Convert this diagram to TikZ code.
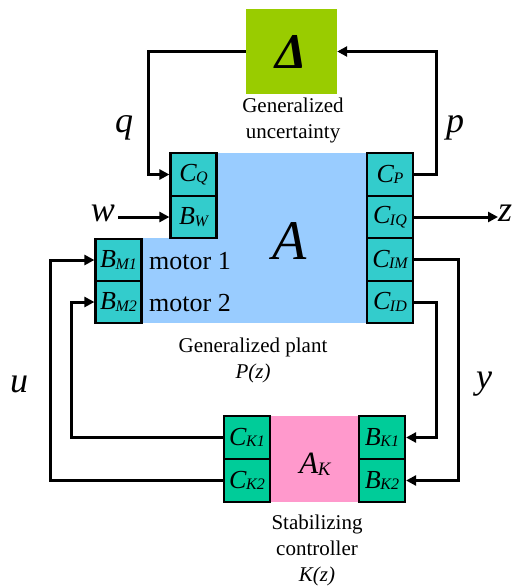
\documentclass[tikz,border=0pt]{standalone}
\usepackage{fontspec}
\setmainfont{Liberation Serif}
\usetikzlibrary{arrows.meta}
\definecolor{dgreen}{HTML}{99CC00}
\definecolor{pblue}{HTML}{99CCFF}
\definecolor{pteal}{HTML}{33CCCC}
\definecolor{kgreen}{HTML}{00CC99}
\definecolor{kpink}{HTML}{FF99CC}
\newcommand{\lab}[2]{{\fontsize{26}{26}\selectfont\itshape #1\kern-0.5pt\raisebox{-1.5pt}{\fontsize{16}{16}\selectfont #2}}}
\tikzset{
  pbox/.style={draw=black, line width=2.2pt, fill=pteal, minimum width=46pt, minimum height=42.5pt, inner sep=0pt},
  kbox/.style={draw=black, line width=2.2pt, fill=kgreen, minimum width=46pt, minimum height=43pt, inner sep=0pt},
  conn/.style={line width=3pt, draw=black},
  arr/.style={conn, -{Triangle[length=10pt,width=10pt]}},
  sig/.style={font=\fontsize{36}{36}\selectfont\itshape, inner sep=0pt},
  captxt/.style={font=\fontsize{21}{26}\selectfont, align=center, inner sep=0pt},
}
\begin{document}
\begin{tikzpicture}[x=1pt,y=-1pt]
\useasboundingbox (0,0) rectangle (512,587);
% uncertainty block
\node[fill=dgreen, minimum width=91pt, minimum height=85pt, inner sep=0pt] (delta) at (291.5,51.5) {\fontsize{50}{50}\selectfont\bfseries\itshape Δ};
\node[captxt] (unc) at (293,120) {Generalized\\uncertainty};
% plant background
\fill[pblue] (217,153) rectangle (367,238);
\fill[pblue] (142,238) rectangle (367,323);
\node[font=\fontsize{56}{56}\selectfont\itshape, inner sep=0pt] (A) at (290,241) {A};
% plant boxes
\node[pbox] (CQ) at (193.5,174.5) {\lab{C}{Q}};
\node[pbox] (BW) at (193.5,217) {\lab{B}{W}};
\node[pbox] (BM1) at (118.5,260) {\lab{B}{M1}};
\node[pbox] (BM2) at (118.5,302) {\lab{B}{M2}};
\node[pbox] (CP) at (390,174.5) {\lab{C}{P}};
\node[pbox] (CIQ) at (390,217) {\lab{C}{IQ}};
\node[pbox] (CIM) at (390,259.5) {\lab{C}{IM}};
\node[pbox] (CID) at (390,302) {\lab{C}{ID}};
\node[anchor=west, font=\fontsize{26}{26}\selectfont, inner sep=0pt] (m1) at (149,261) {motor 1};
\node[anchor=west, font=\fontsize{26}{26}\selectfont, inner sep=0pt] (m2) at (149,303) {motor 2};
\node[captxt] (plant) at (253,347) {Generalized plant};
\node[captxt, font=\fontsize{21}{26}\selectfont\itshape] (Pz) at (253,373) {P(z)};
% controller
\fill[kpink] (270,416) rectangle (359,502);
\node[kbox] (CK1) at (247,437.5) {\lab{C}{K1}};
\node[kbox] (CK2) at (247,480.5) {\lab{C}{K2}};
\node[kbox] (BK1) at (382,437.5) {\lab{B}{K1}};
\node[kbox] (BK2) at (382,480.5) {\lab{B}{K2}};
\node[inner sep=0pt] (AK) at (315,464) {{\fontsize{31}{31}\selectfont\itshape A\kern-0.5pt\raisebox{-2pt}{\fontsize{19}{19}\selectfont K}}};
\node[captxt] (ctrl) at (317,550) {Stabilizing\\controller\\\textit{K(z)}};
% signal labels
\node[sig] (q) at (124,128) {q};
\node[sig] (p) at (455,128) {p};
\node[sig] (w) at (103,213) {w};
\node[sig] (u) at (19,384) {u};
\node[sig] (y) at (484,384) {y};
\node[sig, anchor=west] (z) at (498,213) {z};
% connectors
\draw[arr] (delta.west) -- ++(-97,0) |- (CQ.west);
\draw[arr] (CP.east) -- ++(22,0) |- (delta.east);
\draw[arr] (w.east |- BW.west) ++(3,0) -- (BW.west);
\draw[arr] (CIQ.east) -- (z.west |- CIQ.east);
\draw[arr] (CIM.east) -- ++(44,0) |- (BK2.east);
\draw[arr] (CID.east) -- ++(22,0) |- (BK1.east);
\draw[arr] (CK2.west) -- ++(-172,0) |- (BM1.west);
\draw[arr] (CK1.west) -- ++(-151,0) |- (BM2.west);
\end{tikzpicture}
\end{document}
